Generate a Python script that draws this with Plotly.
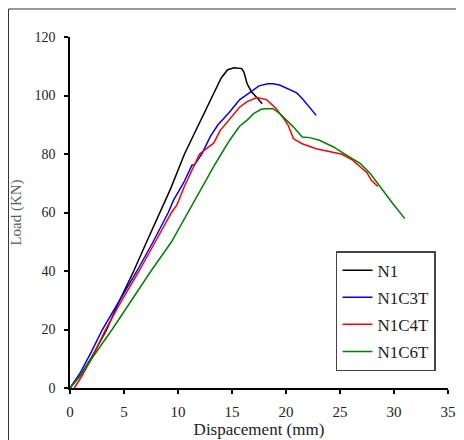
import plotly.graph_objects as go

# Load-displacement curves
n1_x = [0, 1, 2, 3.4, 4.6, 5.9, 7.1, 8.3, 9.3, 10.6, 11.9, 13.2, 14.0, 14.6, 15.2, 15.9, 16.1, 16.4, 16.8, 17.3, 17.8]
n1_y = [0, 4.5, 10.5, 20, 30, 40, 50, 60, 68, 80, 90, 100, 106, 108.8, 109.5, 109.2, 108, 104, 101.3, 99.3, 97.2]

n1c3t_x = [0, 1, 2, 3.0, 4.6, 6.2, 7.7, 9.1, 9.6, 10.5, 11.3, 11.5, 12.2, 13.0, 13.7, 14.7, 15.7, 16.7,
           17.5, 18.3, 18.8, 19.4, 20.4, 21.0, 21.5, 22.1, 22.8]
n1c3t_y = [0, 5.5, 12.5, 20, 30, 40, 50, 60, 64.3, 70, 76.2, 76.2, 80, 86, 90, 94, 98.5, 101.3,
           103.3, 104, 104, 103.6, 102, 100.9, 99, 96.3, 93.2]

n1c4t_x = [0.4, 1, 2, 3.3, 4.8, 6.4, 7.9, 9.4, 9.9, 10.6, 12.0, 13.0, 13.3, 13.9, 14.8, 15.7, 16.4, 17.3,
           18.2, 19.1, 19.9, 20.2, 20.7, 21.5, 22.8, 24.4, 25.2, 26.2, 27.5, 27.9, 28.5]
n1c4t_y = [0, 3.5, 10, 20, 30, 40, 50, 60, 62.6, 69, 80, 83, 83.7, 88, 92.2, 96, 97.9, 99.3,
           98.6, 95.5, 91.5, 89.8, 85.2, 83.5, 81.8, 80.6, 79.9, 77.8, 73.6, 71, 68.9]

n1c6t_x = [0, 1, 2, 3.9, 5.7, 7.5, 9.4, 11.1, 12.4, 13.3, 14.0, 14.8, 15.7, 16.4, 17.0, 17.7, 18.1, 18.8,
           19.4, 20.1, 20.7, 21.5, 22.2, 23.1, 24.4, 25.3, 26.9, 27.8, 28.7, 29.9, 31.0]
n1c6t_y = [0, 4.5, 10, 20, 30, 40, 50, 61.4, 70, 75.7, 80, 84.8, 89.5, 91.6, 93.8, 95.3, 95.5, 95.5,
           93.9, 91.5, 89.2, 85.8, 85.6, 84.7, 82.4, 80.3, 76.7, 73.3, 68.7, 63, 57.9]

x_ticks = [0, 5, 10, 15, 20, 25, 30, 35]
y_ticks = [0, 20, 40, 60, 80, 100, 120]

series = [
    ("N1", n1_x, n1_y, "#000000"),
    ("N1C3T", n1c3t_x, n1c3t_y, "#0000ff"),
    ("N1C4T", n1c4t_x, n1c4t_y, "#ff0000"),
    ("N1C6T", n1c6t_x, n1c6t_y, "#008000"),
]

serif = "Times New Roman"

fig = go.Figure()
for name, xs, ys, col in series:
    fig.add_trace(go.Scatter(
        x=xs, y=ys, mode="lines", name=name, legendgroup=name,
        line=dict(color=col, width=1.5),
    ))

# page body adds an 8px offset, so the figure is 8px smaller and margins shifted
fig.update_layout(
    width=456,
    height=432,
    margin=dict(l=62, r=16, t=29, b=52),
    plot_bgcolor="white",
    paper_bgcolor="white",
    showlegend=True,
    legend=dict(
        x=0.7037, y=0.390, xanchor="left", yanchor="top",
        bgcolor="white", bordercolor="#444444", borderwidth=1.5,
        font=dict(family=serif, size=17, color="#222222"),
        traceorder="grouped", tracegroupgap=2,
    ),
    xaxis=dict(
        range=[0, 35], tickvals=x_ticks, showgrid=False, zeroline=False,
        showline=True, linecolor="black", linewidth=1.5, automargin=False,
        ticks="outside", ticklen=4, tickcolor="black", tickwidth=1.5,
        ticklabelstandoff=5,
        tickfont=dict(family=serif, size=15, color="#222222"),
        title=dict(text="Dispacement (mm)", standoff=4,
                   font=dict(family=serif, size=17, color="#222222")),
    ),
    yaxis=dict(
        range=[0, 120], tickvals=y_ticks, showgrid=False, zeroline=False,
        showline=True, linecolor="black", linewidth=1.5, automargin=False,
        ticks="outside", ticklen=4, tickcolor="black", tickwidth=1.5,
        ticklabelstandoff=6,
        tickfont=dict(family=serif, size=14, color="#222222"),
        title=dict(text="Load (KN)", standoff=10,
                   font=dict(family=serif, size=15, color="#5a5a6a")),
    ),
    # outer chart-area frame (only top and left edges visible in the crop)
    shapes=[dict(
        type="rect", xref="paper", yref="paper",
        x0=-0.1627, x1=1.3, y0=-0.3, y1=1.0798,
        line=dict(color="#333333", width=1), layer="below",
    )],
)

fig.write_html("out.html")
